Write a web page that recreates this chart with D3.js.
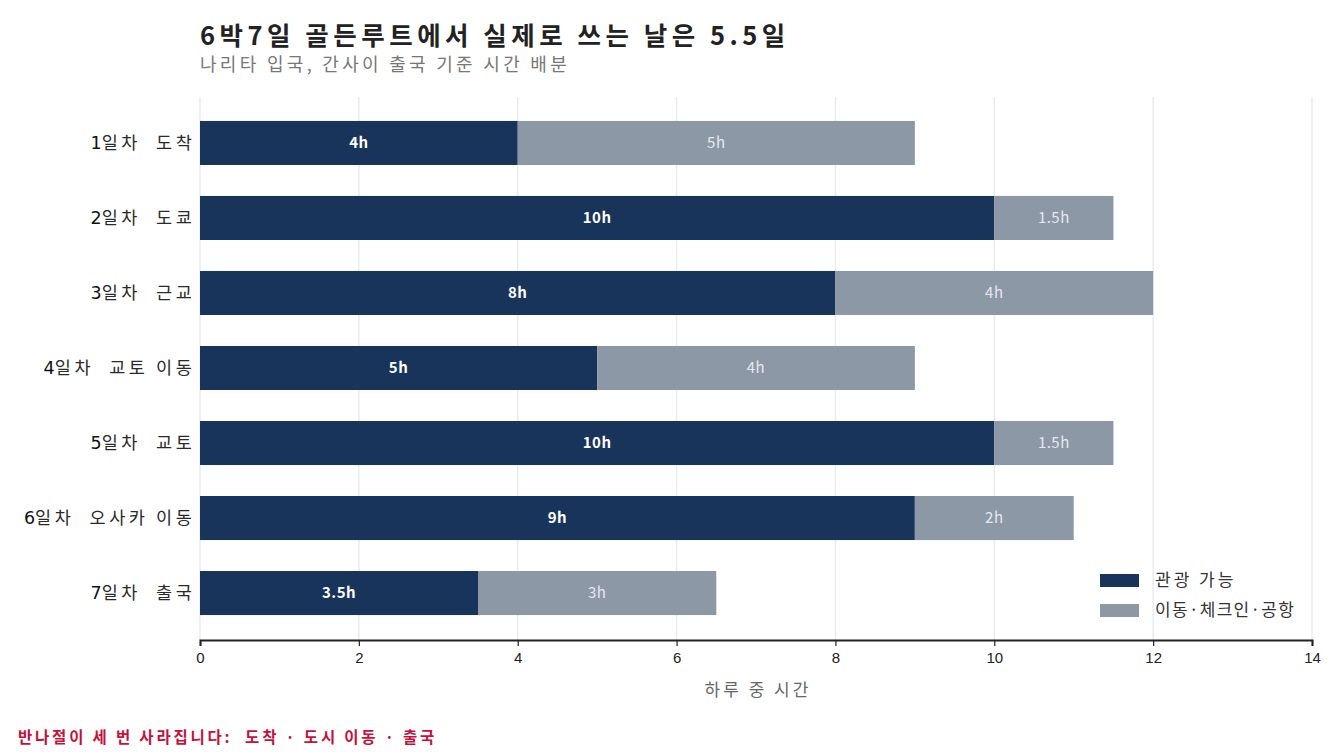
<!DOCTYPE html>
<meta charset="utf-8">
<style>
body { margin: 0; background: #fff; }
svg { font-family: "Noto Sans CJK KR", "Noto Sans", sans-serif; }
.ylab { font-size: 17.5px; fill: #2a2a2a; letter-spacing: 3.6px; }
.tick text { font-size: 15px; fill: #222; }
.grid line { stroke: #e9ebef; stroke-width: 1.5px; }
</style>
<svg width="1344" height="756"></svg>
<script src="https://d3js.org/d3.v7.min.js"></script>
<script>

var dayNums = ["1", "2", "3", "4", "5", "6", "7"];
var days = ["일차  도착", "일차  도쿄", "일차  근교", "일차  교토 이동", "일차  교토", "일차  오사카 이동", "일차  출국"];
var sightseeing = [4, 10, 8, 5, 10, 9, 3.5];
var transit = [5, 1.5, 4, 4, 1.5, 2, 3];
var seriesNames = ["관광 가능", "이동·체크인·공항"];
var xTicks = [0, 2, 4, 6, 8, 10, 12, 14];

var colors = ["#18345a", "#8d98a7"];

var svg = d3.select("svg");

var rows = days.map(function(d, i) {
  return { key: dayNums[i] + d, num: dayNums[i], day: d, s: sightseeing[i], t: transit[i] };
});

var x = d3.scaleLinear().domain([0, 14]).range([200, 1312]);
var y = d3.scaleBand().domain(rows.map(function(r) { return r.key; }))
  .range([105.5, 630.5]).paddingInner(0.413).paddingOuter(0.206);

// grid
svg.append("g").attr("class", "grid")
  .selectAll("line").data(xTicks).enter().append("line")
  .attr("x1", function(d) { return x(d); })
  .attr("x2", function(d) { return x(d); })
  .attr("y1", 97).attr("y2", 640);

// sightseeing bars
svg.selectAll(".bar-s").data(rows).enter().append("rect")
  .attr("x", x(0))
  .attr("y", function(d) { return y(d.key); })
  .attr("width", function(d) { return x(d.s) - x(0); })
  .attr("height", y.bandwidth())
  .attr("fill", colors[0]);

svg.selectAll(".bar-t").data(rows).enter().append("rect")
  .attr("x", function(d) { return x(d.s); })
  .attr("y", function(d) { return y(d.key); })
  .attr("width", function(d) { return x(d.s + d.t) - x(d.s); })
  .attr("height", y.bandwidth())
  .attr("fill", colors[1]);

// value labels
svg.selectAll(".lab-s").data(rows).enter().append("text")
  .attr("x", function(d) { return x(d.s / 2); })
  .attr("y", function(d) { return y(d.key) + y.bandwidth() / 2; })
  .attr("dy", "0.35em")
  .attr("text-anchor", "middle")
  .style("font-size", "15px").style("font-weight", "bold").style("fill", "#fff")
  .style("letter-spacing", "0.5px")
  .text(function(d) { return d.s + "h"; });

svg.selectAll(".lab-t").data(rows).enter().append("text")
  .attr("x", function(d) { return x(d.s + d.t / 2); })
  .attr("y", function(d) { return y(d.key) + y.bandwidth() / 2; })
  .attr("dy", "0.35em")
  .attr("text-anchor", "middle")
  .style("font-size", "15px").style("fill", "#e6e9ee")
  .style("letter-spacing", "0.5px")
  .text(function(d) { return d.t + "h"; });

// y labels
var ylab = svg.selectAll(".ylab").data(rows).enter().append("text")
  .attr("class", "ylab")
  .attr("xml:space", "preserve")
  .attr("x", 195.5)
  .attr("y", function(d) { return y(d.key) + y.bandwidth() / 2; })
  .attr("dy", "0.35em")
  .attr("text-anchor", "end");
ylab.append("tspan")
  .style("font-family", "'DejaVu Sans', sans-serif").style("fill", "#111")
  .style("letter-spacing", "0px")
  .text(function(d) { return d.num; });
ylab.append("tspan")
  .text(function(d) { return d.day; });

// x axis
var xAxis = svg.append("g")
  .attr("transform", "translate(0,640)")
  .call(d3.axisBottom(x).tickValues(xTicks).tickSize(6).tickPadding(6).tickFormat(d3.format("d")));
xAxis.select(".domain").attr("stroke", "#222").attr("stroke-width", 2);
xAxis.selectAll(".tick line").attr("stroke", "#222").attr("stroke-width", 1.2);

svg.append("text")
  .attr("x", (x(0) + x(14)) / 2 + 2).attr("y", 696)
  .attr("text-anchor", "middle")
  .style("font-size", "17px").style("fill", "#666")
  .style("letter-spacing", "3px")
  .text("하루 중 시간");

// legend
var legend = svg.append("g");
seriesNames.forEach(function(n, i) {
  legend.append("rect")
    .attr("x", 1100).attr("y", 574 + i * 30)
    .attr("width", 39).attr("height", 13)
    .attr("fill", colors[i]);
  legend.append("text")
    .attr("x", 1155).attr("y", 580 + i * 30)
    .attr("dy", "0.35em")
    .style("font-size", "17px").style("fill", "#333")
    .style("letter-spacing", i === 0 ? "3px" : "1.3px")
    .text(n);
});

// titles
svg.append("text")
  .attr("x", 200).attr("y", 45)
  .style("font-size", "25.5px").style("font-weight", "bold").style("fill", "#222")
  .style("letter-spacing", "4.5px")
  .text("6박7일 골든루트에서 실제로 쓰는 날은 5.5일");

svg.append("text")
  .attr("x", 200).attr("y", 71)
  .style("font-size", "18px").style("fill", "#777")
  .style("letter-spacing", "3.3px")
  .text("나리타 입국, 간사이 출국 기준 시간 배분");

svg.append("text")
  .attr("x", 18).attr("y", 743)
  .attr("xml:space", "preserve")
  .style("font-size", "15.5px").style("font-weight", "bold").style("fill", "#c4103a")
  .style("letter-spacing", "2.8px")
  .text("반나절이 세 번 사라집니다:  도착 · 도시 이동 · 출국");

</script>
